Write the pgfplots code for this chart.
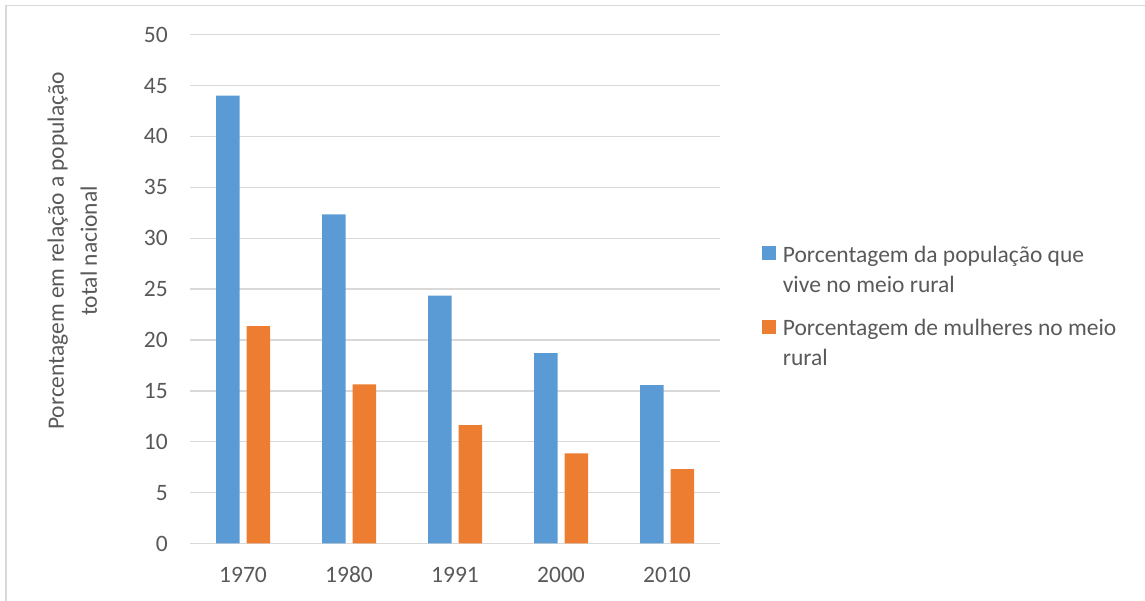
\documentclass[border=0pt]{standalone}
\usepackage{pgfplots}
\pgfplotsset{compat=1.18}
\usepackage{fontspec}
\setmainfont{Carlito}
\definecolor{blueC}{HTML}{5B9BD5}
\definecolor{orangeC}{HTML}{ED7D31}
\definecolor{txtC}{HTML}{595959}
\definecolor{gridC}{HTML}{D9D9D9}
\begin{document}
\fontsize{23.5}{30}\selectfont
\begin{tikzpicture}
\useasboundingbox (0,0) rectangle (1145pt,601pt);
\draw[gridC, line width=1.5pt] (6pt,0pt) -- (6pt,595.5pt) -- (1145pt,595.5pt);
\begin{axis}[
  at={(190pt,57.5pt)}, anchor=south west,
  scale only axis,
  width=530pt, height=508.8pt,
  ybar=7pt, bar width=23.5pt,
  xmin=-0.5, xmax=4.5,
  ymin=0, ymax=50,
  ytick={0,5,...,50},
  xtick=data,
  xticklabels={1970,1980,1991,2000,2010},
  /pgf/number format/assume math mode=true,
  major tick length=0pt,
  axis x line*=bottom,
  axis y line*=left,
  y axis line style={draw=none},
  x axis line style={gridC, line width=1.3pt},
  ymajorgrids,
  grid style={gridC, line width=1.3pt},
  tick label style={font=\fontsize{23.5}{30}\selectfont, text=txtC},
  yticklabel style={anchor=east, inner sep=0pt, xshift=-22pt},
  xticklabel style={anchor=north, inner sep=0pt, text height=16pt, text depth=0pt, yshift=-23pt},
  ylabel={Porcentagem em relação a população\\total nacional},
  ylabel style={at={(rel axis cs:-0.222,0.575)}, anchor=center, rotate=0, align=center, text=txtC, font=\fontsize{23.5}{33}\selectfont},
  legend style={at={(rel axis cs:1.079,0.5945)}, anchor=north west, draw=none, fill=none,
    inner sep=0pt, outer sep=0pt, row sep=49pt,
    font=\fontsize{23.5}{30}\selectfont, text=txtC,
    nodes={inner sep=0pt}},
  legend cell align=left,
  legend image code/.code={\fill[#1] (0pt,-7pt) rectangle (14pt,7pt);},
  legend columns=1,
]
\addplot[draw=none, fill=blueC] coordinates {(0,44.0) (1,32.35) (2,24.35) (3,18.7) (4,15.57)};
\addlegendentry{\hspace{7pt}\begin{tabular}[t]{@{}l@{}}Porcentagem da população que\\vive no meio rural\end{tabular}}
\addplot[draw=none, fill=orangeC] coordinates {(0,21.37) (1,15.64) (2,11.64) (3,8.86) (4,7.32)};
\addlegendentry{\hspace{7pt}\begin{tabular}[t]{@{}l@{}}Porcentagem de mulheres no meio\\rural\end{tabular}}
\end{axis}
\end{tikzpicture}
\end{document}
